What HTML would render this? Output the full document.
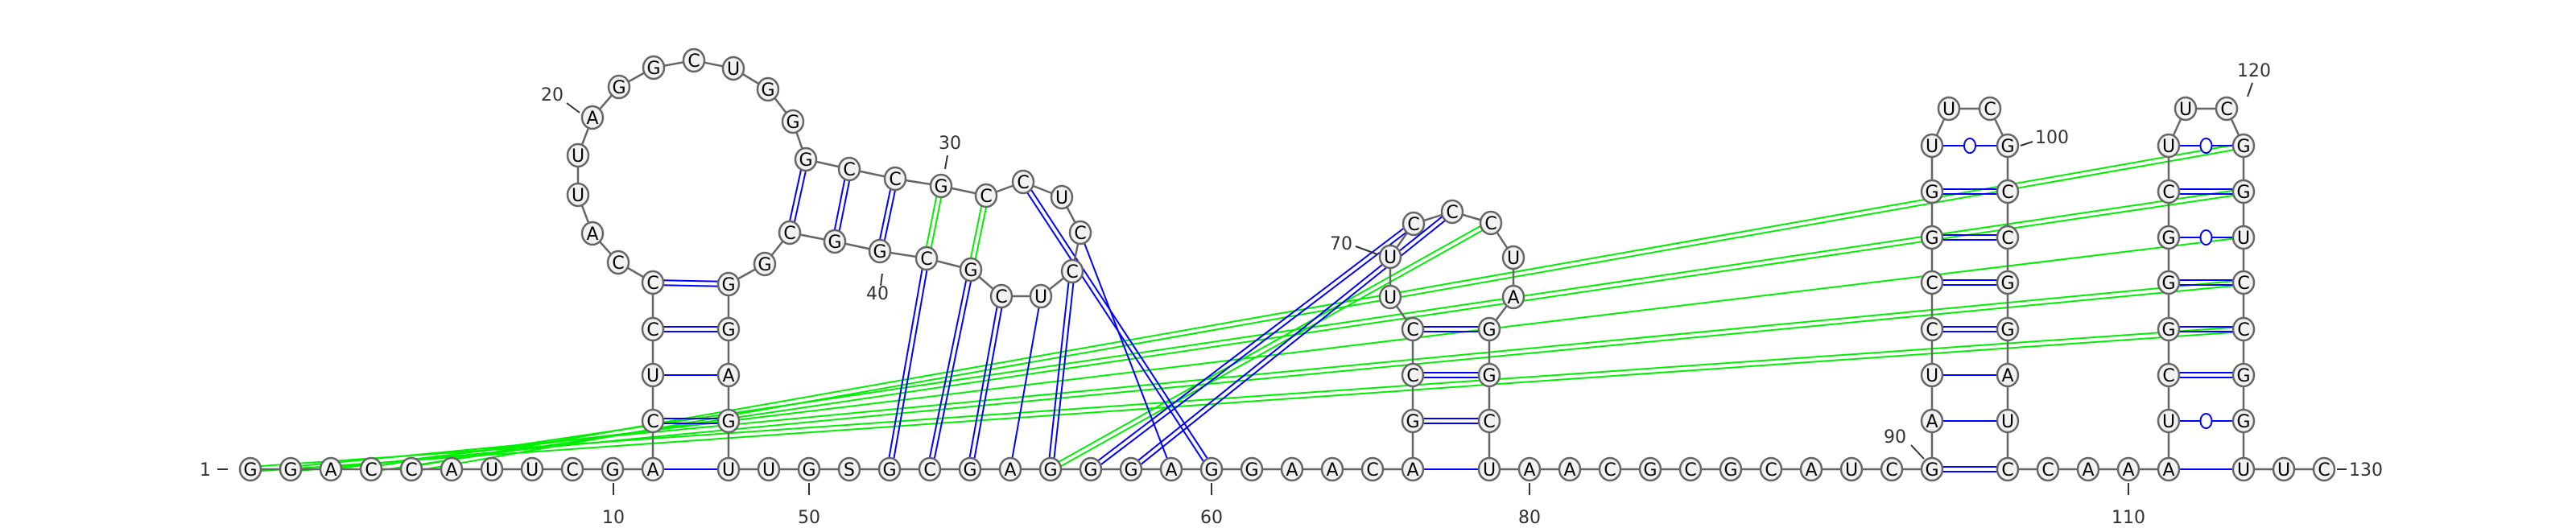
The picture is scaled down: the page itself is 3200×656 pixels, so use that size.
<!DOCTYPE html>
<html><head><meta charset="utf-8"><style>
html,body{margin:0;padding:0;background:#fff;}
svg{display:block;}
text{font-family:"DejaVu Sans","Liberation Sans",sans-serif;}
</style></head><body>
<svg id="chart" width="3200" height="656" viewBox="0 0 3200 656" xmlns="http://www.w3.org/2000/svg">
<g id="pairs"></g>
<g id="backbone"></g>
<g id="nts"></g>
<g id="labels"></g>
</svg>
<script>
// sequence data
const sequence = "GGACCAUUCGA" + "CUCC" + "CAUUAGGCUGG" + "GCCGC" + "CUCCUC" + "GCGGC" + "GGGAGU" +
  "UGSGCGAGGGAGGAAC" + "AGCCUUCCCUAGGCU" + "AACGCGCAUC" + "GAUCCGGUUCGCCGGAUC" + "CAAA" +
  "UCGGGCUUCGGUCCGGU" + "UC";
// canonical (blue) pairs, [i, j] 1-based
const bluePairs = [[11,48],[12,47],[13,46],[14,45],[15,44],[27,42],[28,41],[29,40],
  [39,52],[38,53],[37,54],[36,55],[35,56],[32,60],[34,59],[57,71],[58,72],
  [65,79],[66,78],[67,77],[68,76],
  [90,107],[91,106],[92,105],[93,104],[94,103],[95,102],[96,101],[97,100],
  [111,128],[112,127],[113,126],[114,125],[115,124],[116,123],[117,122],[118,121]];
// alternative (green) pairs
const greenPairs = [[30,39],[31,38],[56,73],[1,125],[2,124],[3,123],[4,122],[5,121]];
// labelled positions
const labelPositions = [1,10,20,30,40,50,60,70,80,90,100,110,120,130];

// layout (drawing coordinates, not data)
const layout = {};
(function(){
  function row(a,b,x0){for(let i=a;i<=b;i++)layout[i]=[x0+50*(i-a),583];}
  row(1,11,311);
  const L=[[12,811,523],[13,811,466],[14,811,409],[15,811,351],[16,768,326],[17,736,290],[18,718,242],[19,718,193],[20,736,146],[21,769,108],[22,812,84],[23,862,75],[24,911,85],[25,954,111],[26,985,151],[27,1001,198],[28,1055,210],[29,1112,222],[30,1169,231],[31,1225,243],[32,1271,226],[33,1319,245],[34,1342,289],[35,1332,337],[36,1293,368],[37,1244,368],[38,1206,335],[39,1151,321],[40,1093,312],[41,1037,300],[42,981,289],[43,950,328],[44,905,353],[45,905,409],[46,905,466],[47,905,523],[48,905,583],
  [66,1755,523],[67,1755,466],[68,1755,409],[69,1727,369],[70,1727,319],[71,1756,278],[72,1804,263],[73,1852,277],[74,1880,320],[75,1880,369],[76,1850,409],[77,1850,466],[78,1850,523],[79,1850,583]];
  L.forEach(p=>layout[p[0]]=[p[1],p[2]]);
  row(49,65,955);
  row(80,90,1900);
  const ys=[583,523,466,409,351,295,238,181];
  for(let k=0;k<8;k++){layout[90+k]=[2400,ys[k]];layout[107-k]=[2494,ys[k]];
    layout[111+k]=[2694,ys[k]];layout[128-k]=[2787,ys[k]];}
  layout[98]=[2421,135];layout[99]=[2472,135];
  layout[119]=[2715,135];layout[120]=[2766,135];
  row(107,111,2494);
  row(128,130,2787);
})();
// label text position + tick [x1,y1,x2,y2] + anchor
const labelPos = {
  1:[262,591,'end',[270,583,283,583]],
  10:[762,650,'middle',[762,600,762,615]],
  20:[700,125,'end',[704,128,720,140]],
  30:[1180,185,'middle',[1177,193,1174,210]],
  40:[1090,372,'middle',[1096,340,1094,355]],
  50:[1005,650,'middle',[1005,600,1005,615]],
  60:[1505,650,'middle',[1505,600,1505,615]],
  70:[1680,310,'end',[1684,306,1711,316]],
  80:[1900,650,'middle',[1900,600,1900,615]],
  90:[2368,550,'end',[2374,553,2390,570]],
  100:[2528,178,'start',[2510,181,2525,176]],
  110:[2644,650,'middle',[2644,600,2644,615]],
  120:[2800,95,'middle',[2798,103,2792,120]],
  130:[2918,591,'start',[2903,583,2915,583]]};

const NS="http://www.w3.org/2000/svg";
function mk(tag,attrs,parent){const e=document.createElementNS(NS,tag);for(const k in attrs)e.setAttribute(k,attrs[k]);parent.appendChild(e);return e;}
const gP=document.getElementById('pairs'),gB=document.getElementById('backbone'),gN=document.getElementById('nts'),gL=document.getElementById('labels');

// backbone
for(let i=1;i<sequence.length;i++){
  const a=layout[i],b=layout[i+1];
  const ln=mk('line',{x1:a[0],y1:a[1],x2:b[0],y2:b[1],stroke:'#666','stroke-width':2.5},gB);
  
  
}
function bondType(i,j){const s=sequence[i-1]+sequence[j-1];
  if(s==='GC'||s==='CG')return 'double';
  if(s==='GU'||s==='UG')return 'wobble';
  return 'single';}
function drawPair(p,color,name){
  const a=layout[p[0]],b=layout[p[1]];
  const dx=b[0]-a[0],dy=b[1]-a[1],len=Math.hypot(dx,dy),nx=-dy/len,ny=dx/len;
  const t=bondType(p[0],p[1]);
  const g=mk('g',{},gP);
  
  
  const offs=t==='double'?[-3,3]:[0];
  offs.forEach(o=>mk('line',{x1:a[0]+nx*o,y1:a[1]+ny*o,x2:b[0]+nx*o,y2:b[1]+ny*o,stroke:color,'stroke-width':2},g));
  if(t==='wobble'){mk('ellipse',{cx:(a[0]+b[0])/2,cy:(a[1]+b[1])/2,rx:7,ry:9,fill:'#fff',stroke:color,'stroke-width':2},g);}
}
greenPairs.forEach(p=>drawPair(p,'#00ee00','alt-pair-'+p[0]+'-'+p[1]));
bluePairs.forEach(p=>drawPair(p,'#0000ff','pair-'+p[0]+'-'+p[1]));

// nucleotides
for(let i=1;i<=sequence.length;i++){
  const c=layout[i];
  const g=mk('g',{},gN);
  
  
  mk('ellipse',{cx:c[0],cy:c[1],rx:13,ry:14,fill:'#f2f2f2',stroke:'#666','stroke-width':2.5},g);
  const t=mk('text',{x:c[0],y:c[1]+8,'text-anchor':'middle','font-size':22,fill:'#000'},g);
  t.textContent=sequence[i-1];
}
// labels
labelPositions.forEach(n=>{
  const lp=labelPos[n];
  const g=mk('g',{},gL);
  
  
  const tk=lp[3];
  mk('line',{x1:tk[0],y1:tk[1],x2:tk[2],y2:tk[3],stroke:'#333','stroke-width':2},g);
  const t=mk('text',{x:lp[0],y:lp[1],'text-anchor':lp[2],'font-size':22,fill:'#333'},g);
  t.textContent=String(n);
});
</script>
</body></html>
